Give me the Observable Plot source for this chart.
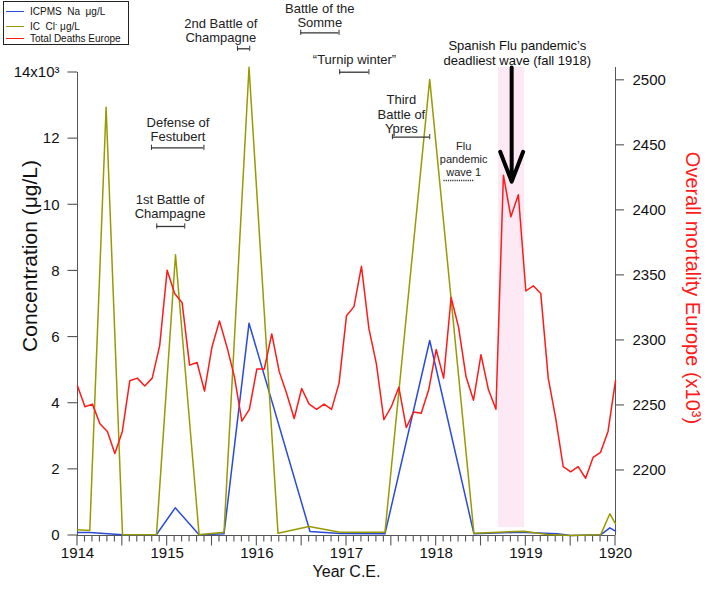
<!DOCTYPE html>
<html><head><meta charset="utf-8">
<script src="https://cdn.jsdelivr.net/npm/d3@7"></script>
<script src="https://cdn.jsdelivr.net/npm/@observablehq/plot@0.6"></script>
<style>
body{margin:0;background:#fff;font-family:"Liberation Sans",Arial,sans-serif}
#wrap{position:relative;width:709px;height:591px}
#legend{position:absolute;left:3px;top:1px;width:124px;height:42px;border:1px solid #222;background:#fff;font-size:10px;color:#111}
#legend .row{position:absolute;left:0;width:122px;height:11px;white-space:pre;line-height:11px}
#legend .sw{position:absolute;left:2px;top:5px;width:18px;height:0;border-top:1.5px solid}
#legend .tx{position:absolute;left:26px;top:0}
#legend .sup{position:relative;top:-4px;font-size:7px}
</style></head><body>
<div id="wrap"><div id="chart"></div>
<div id="legend">
 <div class="row" style="top:4px"><span class="sw" style="border-color:#2a4bd7"></span><span class="tx">ICPMS  Na  μg/L</span></div>
 <div class="row" style="top:18.5px"><span class="sw" style="border-color:#999a00"></span><span class="tx">IC  Cl<span class="sup">-</span> μg/L</span></div>
 <div class="row" style="top:30.5px"><span class="sw" style="border-color:#ff1a1a"></span><span class="tx">Total Deaths Europe</span></div>
</div></div>
<script>
// ---- Data ----
// Total deaths Europe (x10^3), monthly Jan 1914 .. Jan 1920
const deaths = [
 2265, 2249, 2251, 2236, 2230, 2213, 2230, 2269, 2271, 2265, 2271, 2296,
 2354, 2336, 2329, 2281, 2283, 2261, 2295, 2315, 2295, 2272, 2238, 2247,
 2278, 2278, 2305, 2276, 2259, 2240, 2263, 2251, 2247, 2251, 2247, 2267,
 2319, 2326, 2357, 2309, 2282, 2239, 2249, 2264, 2233, 2245, 2244, 2262,
 2293, 2271, 2333, 2310, 2272, 2254, 2289, 2262, 2247, 2427, 2395, 2412,
 2338, 2342, 2336, 2271, 2240, 2203, 2199, 2203, 2194, 2210, 2214, 2230,
 2269
];
const deathsStart = 1914;

// ICPMS Na (µg/L)
const naYear = [1914.0, 1914.137, 1914.502, 1914.881, 1915.09, 1915.356, 1915.634, 1915.913, 1916.593, 1916.928, 1917.429, 1917.928, 1918.421, 1918.94, 1919.35, 1919.5, 1919.834, 1919.937, 1920.0];
const naVal  = [90, 90, 20, 30, 837, 20, 50, 6420, 120, 60, 50, 5897, 50, 100, 50, 0, 20, 233, 130];

// IC Cl- (µg/L)
const clYear = [1914.0, 1914.137, 1914.319, 1914.502, 1914.881, 1915.093, 1915.356, 1915.634, 1915.913, 1916.236, 1916.582, 1916.928, 1917.429, 1917.928, 1918.421, 1918.979, 1919.24, 1919.5, 1919.834, 1919.937, 1920.0];
const clVal  = [172, 151, 12950, 20, 30, 8488, 20, 100, 14160, 70, 272, 100, 100, 13790, 70, 130, 30, 0, 20, 656, 354];

// Axes
const leftTicks = [0, 2000, 4000, 6000, 8000, 10000, 12000, 14000];
const rightTicks = [2200, 2250, 2300, 2350, 2400, 2450, 2500];
const rightDomain = [2150, 2506];
const yearTicks = [1914, 1915, 1916, 1917, 1918, 1919, 1920];

// Annotations (years, levels in µg/L units of the left axis)
const annLabels = ["1st Battle of\nChampagne", "Defense of\nFestubert", "2nd Battle of\nChampagne", "Battle of the\nSomme", "\u201cTurnip winter\u201d", "Third\nBattle of\nYpres", "Flu\npandemic\nwave 1"];
const annTextX = [1915.032, 1915.121, 1915.598, 1916.702, 1917.089, 1917.612, 1918.307];
const annTextY = [9948, 12277, 15270, 15724, 14393, 12743, 11385];
const annStart = [1914.884, 1914.825, 1915.784, 1916.49, 1916.924, 1917.512, 1918.087];
const annEnd   = [1915.196, 1915.41, 1915.921, 1916.917, 1917.25, 1917.928, 1918.432];
const annLevel = [9344, 11723, 14717, 15201, 14009, 12044, 10734];
const annDotted = [false, false, false, false, false, false, true];

const fluLabel = "Spanish Flu pandemic\u2019s\ndeadliest wave (fall 1918)";
const fluTextX = 1918.905, fluTextY = 14605;
const fluBand = [1918.694, 1918.987];
const fluArrowX = 1918.842, fluArrowFrom = 14150, fluArrowTo = 10700;

// ---- Build ----
const W = 709, H = 591, ML = 77, MR = 94, MT = 72, MB = 56;
const upp = 14000 / (H - MT - MB);      // y units per pixel
const ypp = 6 / (W - ML - MR);          // years per pixel
const k = 14000 / (rightDomain[1] - rightDomain[0]);
const toLeft = v => (v - rightDomain[0]) * k;
const deathRows = deaths.map((d, i) => ({x: deathsStart + i / 12, y: toLeft(d)}));
const naRows = naYear.map((x, i) => ({x, y: naVal[i]}));
const clRows = clYear.map((x, i) => ({x, y: clVal[i]}));
const ann = annLabels.map((t, i) => ({t, tx: annTextX[i], ty: annTextY[i], x1: annStart[i], x2: annEnd[i], y: annLevel[i], dotted: annDotted[i]}));
const solid = ann.filter(d => !d.dotted), dotted = ann.filter(d => d.dotted);
const cap = 2.6 * upp;
const caps = solid.flatMap(d => [{x: d.x1, y: d.y}, {x: d.x2, y: d.y}]);

// tick segments as thin rectangles (x ticks: monthly minor + half-yearly major; y ticks left/right)
const hw = 0.55 * ypp, hh = 0.55 * upp;
const xTickRects = d3.range(0, 73).map(i => {
  const x = 1914 + i / 12;
  return {x1: x - hw, x2: x + hw, y1: 0, y2: -(i % 6 === 0 ? 10.5 : 6.5) * upp};
});
const lTickRects = leftTicks.map(v => ({y1: v - hh, y2: v + hh, x1: 1914 - 9.5 * ypp, x2: 1914}));
const rTickRects = rightTicks.map(v => ({y1: toLeft(v) - hh, y2: toLeft(v) + hh, x1: 1920, x2: 1920 + 9 * ypp}));
const axisCol = "#555";
const tickCol = "#555";

const font = "'Liberation Sans', Arial, sans-serif";
const chart = Plot.plot({
  width: W, height: H,
  marginLeft: ML, marginRight: MR, marginTop: MT, marginBottom: MB,
  x: {domain: [1914, 1920], label: null},
  y: {domain: [0, 14000], label: null},
  style: {fontFamily: font, background: "white"},
  marks: [
    Plot.rect([fluBand], {x1: d => d[0], x2: d => d[1], y1: 240, y2: 14150, fill: "#fce9f3"}),
    // axis lines
    Plot.ruleX([1914], {stroke: axisCol}),
    Plot.ruleX([1920], {y1: 0, y2: 14150, stroke: axisCol}),
    Plot.ruleY([0], {stroke: axisCol}),
    // ticks
    Plot.rect(xTickRects, {x1: "x1", x2: "x2", y1: "y1", y2: "y2", fill: tickCol}),
    Plot.rect(lTickRects, {x1: "x1", x2: "x2", y1: "y1", y2: "y2", fill: tickCol}),
    Plot.rect(rTickRects, {x1: "x1", x2: "x2", y1: "y1", y2: "y2", fill: tickCol}),
    // tick labels
    Plot.axisX(yearTicks, {tickSize: 0, tickPadding: 12, tickFormat: d3.format("d"), fontSize: 15, fill: "#111", label: null}),
    Plot.axisY(leftTicks, {anchor: "left", tickSize: 0, tickPadding: 18, fill: "#111", fontSize: 15, label: null,
      tickFormat: d => d === 14000 ? "14x10\u00b3" : String(d / 1000)}),
    Plot.axisY(rightTicks.map(toLeft), {anchor: "right", tickSize: 0, tickPadding: 17, fill: "#111", fontSize: 15, label: null,
      tickFormat: d => String(Math.round(d / k + rightDomain[0]))}),
    // axis titles
    Plot.text(["Year C.E."], {frameAnchor: "bottom", textAnchor: "middle", dy: 41, fontSize: 16, fill: "#111", text: d => d}),
    Plot.text(["Concentration (\u03bcg/L)"], {frameAnchor: "left", textAnchor: "middle", dx: -47, dy: -48, rotate: -90, fontSize: 21, fill: "#111", text: d => d}),
    Plot.text(["Overall mortality Europe (x10\u00b3)"], {frameAnchor: "right", textAnchor: "middle", dx: 77, dy: -16, rotate: 90, fontSize: 20, fill: "#ff1a1a", text: d => d}),
    // data
    Plot.line(naRows, {x: "x", y: "y", stroke: "#2a4bd7", strokeWidth: 1.5}),
    Plot.line(clRows, {x: "x", y: "y", stroke: "#999a00", strokeWidth: 1.5}),
    Plot.line(deathRows, {x: "x", y: "y", stroke: "#ff1a1a", strokeWidth: 1.5}),
    // annotations
    Plot.ruleY(solid, {x1: "x1", x2: "x2", y: "y", stroke: "#333", strokeWidth: 1.3}),
    Plot.ruleX(caps, {x: "x", y1: d => d.y - cap, y2: d => d.y + cap, stroke: "#333", strokeWidth: 1}),
    Plot.ruleY(dotted, {x1: "x1", x2: "x2", y: "y", stroke: "#333", strokeWidth: 1.3, strokeDasharray: "1.2,1"}),
    Plot.text(solid, {x: "tx", y: "ty", text: "t", fontSize: 13, lineHeight: 1.1, fill: "#222"}),
    Plot.text(dotted, {x: "tx", y: "ty", text: "t", fontSize: 11, lineHeight: 1.2, fill: "#222"}),
    Plot.text([fluLabel], {x: fluTextX, y: fluTextY, text: d => d, fontSize: 13, lineHeight: 1.2, fill: "#111"}),
    Plot.arrow([0], {x1: fluArrowX, x2: fluArrowX, y1: fluArrowFrom, y2: fluArrowTo, stroke: "black", strokeWidth: 4, headAngle: 42, headLength: 12})
  ]
});
document.getElementById("chart").appendChild(chart);
</script></body></html>
